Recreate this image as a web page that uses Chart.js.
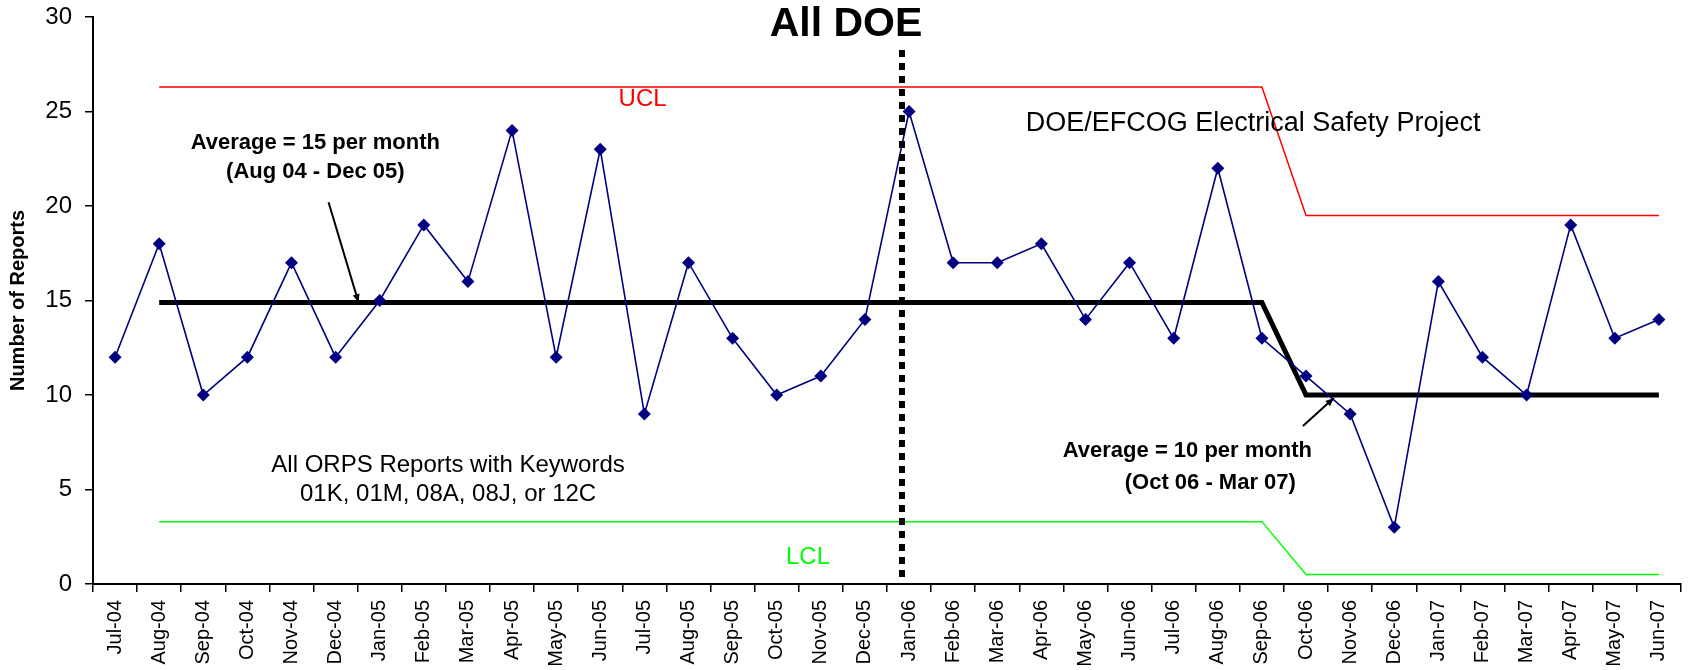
<!DOCTYPE html>
<html>
<head>
<meta charset="utf-8">
<script src="https://cdn.jsdelivr.net/npm/chart.js@4/dist/chart.umd.min.js"></script>
<style>
	body { margin: 0; background: #fff; }
	#wrap { width: 1691px; height: 670px; position: relative; }
</style>
</head>
<body>
<div id="wrap"><canvas id="chartOrps"></canvas></div>
<script>
// Datos del gráfico
const months = ['Jul-04', 'Aug-04', 'Sep-04', 'Oct-04', 'Nov-04', 'Dec-04',
	'Jan-05', 'Feb-05', 'Mar-05', 'Apr-05', 'May-05', 'Jun-05',
	'Jul-05', 'Aug-05', 'Sep-05', 'Oct-05', 'Nov-05', 'Dec-05',
	'Jan-06', 'Feb-06', 'Mar-06', 'Apr-06', 'May-06', 'Jun-06',
	'Jul-06', 'Aug-06', 'Sep-06', 'Oct-06', 'Nov-06', 'Dec-06',
	'Jan-07', 'Feb-07', 'Mar-07', 'Apr-07', 'May-07', 'Jun-07'];
const reports = [12, 18, 10, 12, 17, 12, 15, 19, 16, 24, 12, 23,
	9, 17, 13, 10, 11, 14, 25, 17, 17, 18, 14, 17,
	13, 22, 13, 11, 9, 3, 16, 12, 10, 19, 13, 14];
const ucl = [null, 26.3, 26.3, 26.3, 26.3, 26.3, 26.3, 26.3, 26.3, 26.3, 26.3, 26.3,
	26.3, 26.3, 26.3, 26.3, 26.3, 26.3, 26.3, 26.3, 26.3, 26.3, 26.3, 26.3,
	26.3, 26.3, 26.3, 19.5, 19.5, 19.5, 19.5, 19.5, 19.5, 19.5, 19.5, 19.5];
const lcl = [null, 3.3, 3.3, 3.3, 3.3, 3.3, 3.3, 3.3, 3.3, 3.3, 3.3, 3.3,
	3.3, 3.3, 3.3, 3.3, 3.3, 3.3, 3.3, 3.3, 3.3, 3.3, 3.3, 3.3,
	3.3, 3.3, 3.3, 0.5, 0.5, 0.5, 0.5, 0.5, 0.5, 0.5, 0.5, 0.5];
const average = [null, 14.9, 14.9, 14.9, 14.9, 14.9, 14.9, 14.9, 14.9, 14.9, 14.9, 14.9,
	14.9, 14.9, 14.9, 14.9, 14.9, 14.9, 14.9, 14.9, 14.9, 14.9, 14.9, 14.9,
	14.9, 14.9, 14.9, 10, 10, 10, 10, 10, 10, 10, 10, 10];
const yTicks = [0, 5, 10, 15, 20, 25, 30];

const FONT = '"Liberation Sans", Arial, sans-serif';

// Textos y flechas (posiciones en unidades de los ejes)
const textos = [
	{ t: 'All DOE', x: 16.57, y: 29.6, font: 'bold 41px ' + FONT, color: '#000' },
	{ t: 'UCL', x: 11.96, y: 25.66, font: '24px ' + FONT, color: '#ff0000' },
	{ t: 'LCL', x: 15.71, y: 1.43, font: '24px ' + FONT, color: '#00ff00' },
	{ t: 'DOE/EFCOG Electrical Safety Project', x: 25.8, y: 24.34, font: '27px ' + FONT, color: '#000' },
	{ t: 'Average = 15 per month', x: 4.54, y: 23.33, font: 'bold 22px ' + FONT, color: '#000' },
	{ t: '(Aug 04 - Dec 05)', x: 4.54, y: 21.8, font: 'bold 22px ' + FONT, color: '#000' },
	{ t: 'All ORPS Reports with Keywords', x: 7.55, y: 6.3, font: '24px ' + FONT, color: '#000' },
	{ t: '01K, 01M, 08A, 08J, or 12C', x: 7.55, y: 4.76, font: '24px ' + FONT, color: '#000' },
	{ t: 'Average = 10 per month', x: 24.31, y: 7.04, font: 'bold 22px ' + FONT, color: '#000' },
	{ t: '(Oct 06 - Mar 07)', x: 24.83, y: 5.34, font: 'bold 22px ' + FONT, color: '#000' }
];
const flechas = [
	{ x1: 4.84, y1: 20.2, x2: 5.52, y2: 14.9 },
	{ x1: 26.93, y1: 8.36, x2: 27.63, y2: 9.84 }
];
const lineaDOE = { x: 17.84, yTop: 28.25 };

const anotaciones = {
	id: 'anotaciones',
	afterDatasetsDraw(chart) {
		const ctx = chart.ctx;
		const xs = chart.scales.x, ys = chart.scales.y;
		const px = xs.getPixelForValue(lineaDOE.x);
		ctx.save();
		ctx.strokeStyle = '#000';
		ctx.lineWidth = 6;
		ctx.setLineDash([7, 6]);
		ctx.beginPath();
		ctx.moveTo(px, ys.getPixelForValue(lineaDOE.yTop));
		ctx.lineTo(px, ys.getPixelForValue(0));
		ctx.stroke();
		ctx.restore();
	},
	afterDraw(chart) {
		const ctx = chart.ctx;
		const xs = chart.scales.x, ys = chart.scales.y;
		ctx.save();
		ctx.textAlign = 'center';
		ctx.textBaseline = 'middle';
		textos.forEach(function (a) {
			ctx.font = a.font;
			ctx.fillStyle = a.color;
			ctx.fillText(a.t, xs.getPixelForValue(a.x), ys.getPixelForValue(a.y));
		});
		ctx.strokeStyle = '#000';
		ctx.fillStyle = '#000';
		ctx.lineWidth = 2;
		flechas.forEach(function (f) {
			const x1 = xs.getPixelForValue(f.x1), y1 = ys.getPixelForValue(f.y1);
			const x2 = xs.getPixelForValue(f.x2), y2 = ys.getPixelForValue(f.y2);
			const ang = Math.atan2(y2 - y1, x2 - x1);
			ctx.beginPath();
			ctx.moveTo(x1, y1);
			ctx.lineTo(x2, y2);
			ctx.stroke();
			ctx.beginPath();
			ctx.moveTo(x2, y2);
			ctx.lineTo(x2 - 9 * Math.cos(ang - 0.4), y2 - 9 * Math.sin(ang - 0.4));
			ctx.lineTo(x2 - 9 * Math.cos(ang + 0.4), y2 - 9 * Math.sin(ang + 0.4));
			ctx.closePath();
			ctx.fill();
		});
		ctx.restore();
	}
};

const ctx = document.getElementById('chartOrps').getContext('2d');
new Chart(ctx, {
	type: 'line',
	data: {
		labels: months,
		datasets: [{
			label: 'Reports',
			data: reports,
			borderColor: '#000080',
			backgroundColor: '#000080',
			borderWidth: 1.6,
			pointStyle: 'rectRot',
			pointRadius: 6.5,
			pointBorderWidth: 0,
			tension: 0
		}, {
			label: 'Average',
			data: average,
			borderColor: '#000',
			borderWidth: 5,
			pointRadius: 0,
			tension: 0
		}, {
			label: 'UCL',
			data: ucl,
			borderColor: '#ff0000',
			borderWidth: 1.5,
			pointRadius: 0,
			tension: 0
		}, {
			label: 'LCL',
			data: lcl,
			borderColor: '#00ff00',
			borderWidth: 1.5,
			pointRadius: 0,
			tension: 0
		}]
	},
	options: {
		responsive: true,
		maintainAspectRatio: false,
		animation: false,
		layout: { padding: { top: 17, right: 6, left: 0, bottom: 0 } },
		plugins: {
			legend: { display: false },
			tooltip: { enabled: false }
		},
		scales: {
			x: {
				offset: true,
				grid: { drawOnChartArea: false, drawTicks: true, tickLength: 8, color: '#000', lineWidth: 1.5, offset: true },
				border: { color: '#000', width: 2 },
				ticks: {
					color: '#000',
					font: { family: FONT, size: 20 },
					minRotation: 90,
					maxRotation: 90,
					autoSkip: false,
					padding: 8
				},
				afterFit: function (scale) { scale.height = 86; }
			},
			y: {
				min: 0,
				max: 30,
				afterBuildTicks: function (scale) {
					scale.ticks = yTicks.map(v => ({ value: v }));
				},
				grid: { drawOnChartArea: false, drawTicks: true, tickLength: 8, color: '#000', lineWidth: 1.5 },
				border: { color: '#000', width: 2 },
				ticks: {
					color: '#000',
					font: { family: FONT, size: 24 },
					padding: 13
				},
				title: {
					display: true,
					text: 'Number of Reports',
					color: '#000',
					font: { family: FONT, size: 20, weight: 'bold' },
					padding: { top: 6, bottom: 0 }
				},
				afterFit: function (scale) {
					scale.width = 93;
					scale.paddingTop = 0;
					scale.paddingBottom = 0;
				}
			}
		}
	},
	plugins: [anotaciones]
});
</script>
</body>
</html>
